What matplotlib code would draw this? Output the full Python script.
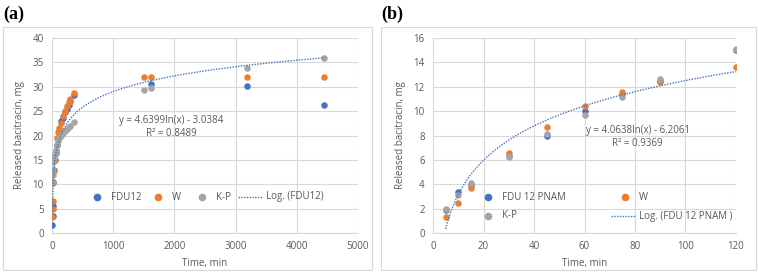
import numpy as np
import matplotlib
matplotlib.use("Agg")
import matplotlib.pyplot as plt
from matplotlib.lines import Line2D
from matplotlib.patches import Rectangle

plt.rcParams['font.family'] = ['Open Sans', 'DejaVu Sans']

BLUE = '#4472C4'
ORANGE = '#ED7D31'
GRAY = '#A5A5A5'
TXT = '#595959'

# panel (a) data
t_a = [5, 10, 15, 20, 30, 45, 60, 75, 90, 120, 150, 180, 210, 240, 270, 300, 360, 1500, 1620, 3190, 4450]
fdu12 = [1.7, 3.5, 5.5, 10.5, 13.0, 15.0, 16.5, 18.0, 19.5, 21.0, 23.0, 23.5, 24.8, 25.5, 26.3, 27.0, 28.3,
         None, 30.6, 30.2, 26.2]
w_a = [3.2, 5.0, 6.5, 10.2, 12.8, 15.0, 16.8, 19.5, 20.8, 21.5, 22.5, 24.0, 25.0, 26.0, 26.8, 27.5, 28.8,
       32.1, 32.1, 32.1, 32.1]
kp_a = [10.5, 12.0, 13.0, 14.5, 15.5, 16.2, 17.0, 18.0, 18.8, 19.5, 20.0, 20.5, 21.0, 21.3, 21.8, 22.0, 22.8,
        29.4, 29.8, 33.8, 35.8]
coef_a = (4.6399, -3.0384)

# panel (b) data
t_b = [5, 10, 15, 30, 45, 60, 75, 90, 120]
fdu12_pnam = [1.9, 3.4, 3.9, 6.3, 8.0, 10.0, 11.4, 12.5, 15.0]
w_b = [1.3, 2.5, 3.7, 6.6, 8.7, 10.4, 11.6, 12.4, 13.6]
kp_b = [2.0, 3.1, 4.1, 6.2, 8.1, 9.7, 11.2, 12.6, 15.1]
coef_b = (4.0638, -6.2061)

W, H = 758, 277
fig = plt.figure(figsize=(W / 100, H / 100), dpi=100)


def fx(px):
    return px / W


def fy(py):
    return 1 - py / H


def draw_panel(left, right, frame, tag, t, series, coef, xlim, xstep, ylim, ystep, eq_pos, leg):
    ax = fig.add_axes([fx(left), fy(233), fx(right - left), fy(38) - fy(233)])
    fig.patches.append(Rectangle((fx(frame[0]), fy(frame[3])), fx(frame[1] - frame[0]), fy(frame[2]) - fy(frame[3]),
                                 transform=fig.transFigure, fill=False, edgecolor='#D9D9D9', lw=0.8))
    fig.text(fx(frame[0]), fy(14), tag, fontsize=13, fontweight='bold', family='Liberation Serif',
             va='center', ha='left', color='black')
    for ys, c in zip(series, [BLUE, ORANGE, GRAY]):
        xs = [a for a, b in zip(t, ys) if b is not None]
        vs = [b for b in ys if b is not None]
        ax.scatter(xs, vs, s=22, color=c, zorder=3, linewidths=0)
    xx = np.linspace(min(t), max(t), 300)
    ax.plot(xx, coef[0] * np.log(xx) + coef[1], color=BLUE, lw=1.0, ls=(0, (1, 1)), zorder=4)
    ax.set_xlim(*xlim)
    ax.set_ylim(*ylim)
    ax.set_xticks(np.arange(xlim[0], xlim[1] + xstep / 2, xstep))
    ax.set_yticks(np.arange(ylim[0], ylim[1] + ystep / 2, ystep))
    ax.grid(True, color='#D9D9D9', lw=0.8)
    ax.set_axisbelow(True)
    for s in ['top', 'right', 'left']:
        ax.spines[s].set_visible(False)
    ax.spines['bottom'].set_color('#D9D9D9')
    ax.tick_params(length=0, labelsize=7, colors=TXT, pad=6)
    ax.set_xlabel('Time, min', fontsize=7, color=TXT, labelpad=4)
    ax.set_ylabel('Released bacitracin, mg', fontsize=7, color=TXT, labelpad=5)
    ax.text(eq_pos[0], eq_pos[1], 'y = %.4fln(x) - %.4f\nR² = %s' % (coef[0], -coef[1], eq_pos[2]),
            transform=ax.transData, fontsize=7, color=TXT, ha='center', va='center', linespacing=1.3)
    for item in leg:
        kind, px, py, label, c = item
        if kind == 'dot':
            fig.add_artist(Line2D([fx(px)], [fy(py)], marker='o', ms=4.5, color=c, mec=c, transform=fig.transFigure))
            fig.text(fx(px + 14), fy(py), label, fontsize=7, color=TXT, va='center')
        else:
            fig.add_artist(Line2D([fx(px), fx(px + 24)], [fy(py), fy(py)], color=c, lw=1.0, ls=(0, (1, 1)),
                                  transform=fig.transFigure))
            fig.text(fx(px + 28), fy(py), label, fontsize=7, color=TXT, va='center')
    return ax


draw_panel(52, 358, (3, 372, 27, 270), '(a)', t_a, [fdu12, w_a, kp_a], coef_a,
           (0, 5000), 1000, (0, 40), 5, (1950, 21.8, '0.8489'),
           [('dot', 97, 197, 'FDU12', BLUE), ('dot', 158, 197, 'W', ORANGE),
            ('dot', 202, 197, 'K-P', GRAY), ('line', 238, 197, 'Log. (FDU12)', BLUE)])

draw_panel(433, 736, (381, 756, 27, 270), '(b)', t_b, [fdu12_pnam, w_b, kp_b], coef_b,
           (0, 120), 20, (0, 16), 2, (81, 7.9, '0.9369'),
           [('dot', 488, 197, 'FDU 12 PNAM', BLUE), ('dot', 625, 197, 'W', ORANGE),
            ('dot', 488, 216, 'K-P', GRAY), ('line', 611, 216, 'Log. (FDU 12 PNAM )', BLUE)])

fig.savefig('out.png', dpi=100)
